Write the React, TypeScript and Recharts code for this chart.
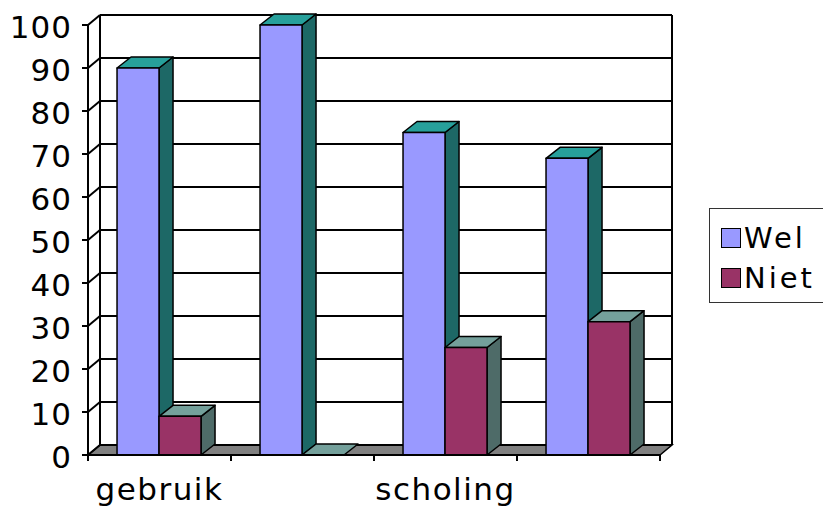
import { Bar, BarChart, CartesianGrid, Legend, XAxis, YAxis } from "recharts";

// Excel-style 3D clustered columns: Wel / Niet per category, on a back wall with a grey floor.

const categories = ["gebruik", "", "scholing", ""];
const welValues = [90, 100, 75, 69];
const nietValues = [9, 0, 25, 31];
const yTicks = [0, 10, 20, 30, 40, 50, 60, 70, 80, 90, 100];

const data = categories.map((name, i) => ({ name, wel: welValues[i], niet: nietValues[i] }));

const CHART_W = 823;
const CHART_H = 502;
const LEGEND_W = 119;
const LEGEND_H = 95;
// the right legend adds its own width to the right offset
const MARGIN = { top: 17, right: 171 - LEGEND_W, left: 0, bottom: 0 };
const Y_AXIS_W = 80;
const X_AXIS_H = 55;
const PLOT_TOP = MARGIN.top;
const PLOT_BOTTOM = CHART_H - MARGIN.bottom - X_AXIS_H;
const PLOT_W = CHART_W - 171 - Y_AXIS_W - MARGIN.left;
const BAND = PLOT_W / categories.length;

// depth of the walls and of the columns
const WALL_DX = 12;
const WALL_DY = 10;
const BAR_DX = 14;
const BAR_DY = 11;

const FONT = "'DejaVu Sans', Verdana, sans-serif";

const SERIES = {
  wel: { label: "Wel", front: "#9999FF", top: "#27A09B", side: "#1D6866" },
  niet: { label: "Niet", front: "#993366", top: "#74A09B", side: "#4E6B68" },
};

const makeBox = (colors: { front: string; top: string; side: string }) => (props: any) => {
  const { x, y, width, height } = props;
  if (x == null || y == null) return <g />;
  const w = width;
  const h = Math.max(0, height);
  const topFace = `${x},${y} ${x + BAR_DX},${y - BAR_DY} ${x + w + BAR_DX},${y - BAR_DY} ${x + w},${y}`;
  const sideFace = `${x + w},${y} ${x + w + BAR_DX},${y - BAR_DY} ${x + w + BAR_DX},${y + h - BAR_DY} ${x + w},${y + h}`;
  return (
    <g stroke="#000" strokeWidth={1.5} strokeLinejoin="round">
      {h > 0 && <polygon points={sideFace} fill={colors.side} />}
      <polygon points={topFace} fill={colors.top} />
      {h > 0 && <rect x={x} y={y} width={w} height={h} fill={colors.front} />}
    </g>
  );
};

// each horizontal grid line is moved onto the back wall, with a diagonal on the left wall
const gridLine = (props: any) => {
  const { x1, y1, x2, y2 } = props;
  const isFloor = Math.abs(y1 - PLOT_BOTTOM) < 1;
  const isTop = Math.abs(y1 - PLOT_TOP) < 1;
  return (
    <g key={props.key} stroke="#000" strokeWidth={2}>
      {isFloor && (
        <polygon
          points={`${x1},${y1} ${x2},${y2} ${x2 + WALL_DX},${y2 - WALL_DY} ${x1 + WALL_DX},${y1 - WALL_DY}`}
          fill="#808080"
          strokeWidth={1.5}
        />
      )}
      {isTop && (
        <>
          <line x1={x1 + WALL_DX} y1={PLOT_TOP - WALL_DY} x2={x1 + WALL_DX} y2={PLOT_BOTTOM - WALL_DY} />
          <line x1={x2 + WALL_DX} y1={PLOT_TOP - WALL_DY} x2={x2 + WALL_DX} y2={PLOT_BOTTOM - WALL_DY} />
        </>
      )}
      <line x1={x1 + WALL_DX} y1={y1 - WALL_DY} x2={x2 + WALL_DX} y2={y2 - WALL_DY} />
      <line x1={x1} y1={y1} x2={x1 + WALL_DX} y2={y1 - WALL_DY} />
    </g>
  );
};

// category label in the middle, tick marks on the category boundaries
const CategoryTick = (props: any) => {
  const { x, payload, index } = props;
  const left = x - BAND / 2;
  const right = x + BAND / 2;
  return (
    <g>
      <line x1={left} y1={PLOT_BOTTOM} x2={left} y2={PLOT_BOTTOM + 6} stroke="#000" strokeWidth={2} />
      {index === categories.length - 1 && (
        <line x1={right} y1={PLOT_BOTTOM} x2={right} y2={PLOT_BOTTOM + 6} stroke="#000" strokeWidth={2} />
      )}
      <text
        x={x}
        y={PLOT_BOTTOM + 45}
        textAnchor="middle"
        fontFamily={FONT}
        fontSize={31}
        letterSpacing={1.5}
        fill="#000"
      >
        {payload.value}
      </text>
    </g>
  );
};

const LegendBox = () => (
  <div
    style={{
      width: LEGEND_W,
      height: LEGEND_H,
      boxSizing: "border-box",
      border: "1.5px solid #333",
      background: "#fff",
      fontFamily: FONT,
      fontSize: 29,
      letterSpacing: 3,
      padding: "9px 0 0 11px",
    }}
  >
    {[SERIES.wel, SERIES.niet].map((s) => (
      <div key={s.label} style={{ display: "flex", alignItems: "center", height: 40 }}>
        <span
          style={{
            width: 20,
            height: 20,
            boxSizing: "border-box",
            background: s.front,
            border: "1px solid #000",
            marginRight: 3,
          }}
        />
        <span style={{ lineHeight: "29px" }}>{s.label}</span>
      </div>
    ))}
  </div>
);

export default function App() {
  return (
    <BarChart
      width={CHART_W}
      height={CHART_H}
      data={data}
      margin={MARGIN}
      barCategoryGap="20.3%"
      barGap={0}
      style={{ background: "#fff" }}
    >
      <CartesianGrid vertical={false} horizontal={gridLine} />
      <Bar dataKey="wel" name="Wel" fill={SERIES.wel.front} shape={makeBox(SERIES.wel)} isAnimationActive={false} />
      <Bar dataKey="niet" name="Niet" fill={SERIES.niet.front} shape={makeBox(SERIES.niet)} isAnimationActive={false} />
      <XAxis
        dataKey="name"
        height={X_AXIS_H}
        tickLine={false}
        axisLine={{ stroke: "#000", strokeWidth: 2 }}
        tick={<CategoryTick />}
        interval={0}
      />
      <YAxis
        width={Y_AXIS_W}
        domain={[0, 100]}
        ticks={yTicks}
        interval={0}
        tickSize={6}
        tickMargin={10}
        tickLine={{ stroke: "#000", strokeWidth: 2 }}
        axisLine={{ stroke: "#000", strokeWidth: 2 }}
        tick={{ fill: "#000", fontSize: 31, fontFamily: FONT, letterSpacing: 1, dy: 2 }}
      />
      <Legend
        layout="vertical"
        align="right"
        verticalAlign="middle"
        content={<LegendBox />}
        wrapperStyle={{ position: "absolute", left: 701, top: 200, width: LEGEND_W, height: LEGEND_H }}
      />
    </BarChart>
  );
}
